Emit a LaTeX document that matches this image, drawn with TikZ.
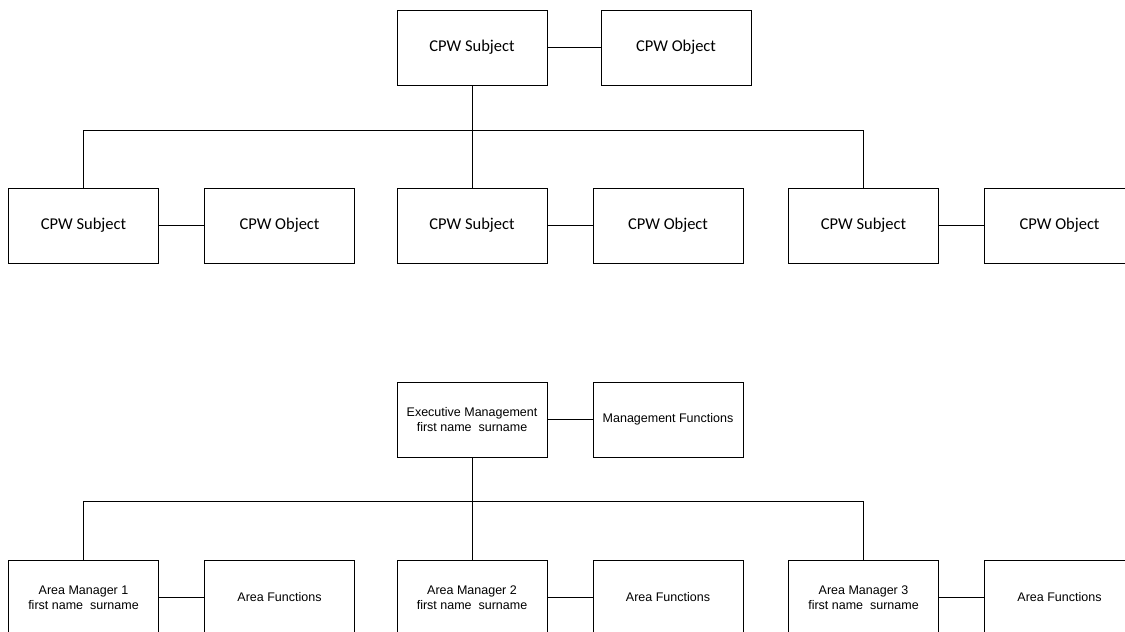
\documentclass[tikz,border=0pt]{standalone}
\usepackage{fontspec}
\newfontfamily\cpwfont{Carlito}
\newfontfamily\orgfont{Liberation Sans}
\usetikzlibrary{positioning}

\begin{document}
\begin{tikzpicture}[x=1pt,y=-1pt,line width=1pt,
    unitbox/.style={draw,minimum width=150pt,minimum height=75pt,inner sep=0pt,align=center},
    cpwbox/.style={unitbox,font=\cpwfont\fontsize{16.5}{19}\selectfont},
    orgbox/.style={unitbox,font=\orgfont\fontsize{12.5}{15}\selectfont}]
  \useasboundingbox (0,0) rectangle (1125,632);
  % generic CPW chart
  \node[cpwbox] (s0) at (472,47.5) {CPW Subject};
  \node[cpwbox,right=53pt of s0] (o0) {CPW Object};
  \draw (s0) -- (o0);
  \draw (s0.south) -- ++(0,45) coordinate (b0);
  \foreach \i/\x in {1/83.5,2/472,3/863.5} {
    \node[cpwbox] (s\i) at (\x,225.5) {CPW Subject};
    \node[cpwbox,right=45pt of s\i] (o\i) {CPW Object};
    \draw (s\i) -- (o\i);
    \draw (b0) -| (s\i.north);
  }
  % management chart
  \node[orgbox] (e0) at (472,419.5) {Executive Management\\first name\ \ surname};
  \node[orgbox,right=45pt of e0] (f0) {Management Functions};
  \draw (e0) -- (f0);
  \draw (e0.south) -- ++(0,44) coordinate (b1);
  \foreach \i/\x in {1/83.5,2/472,3/863.5} {
    \node[orgbox] (m\i) at (\x,597.5) {Area Manager \i\\first name\ \ surname};
    \node[orgbox,right=45pt of m\i] (a\i) {Area Functions};
    \draw (m\i) -- (a\i);
    \draw (b1) -| (m\i.north);
  }
\end{tikzpicture}
\end{document}
